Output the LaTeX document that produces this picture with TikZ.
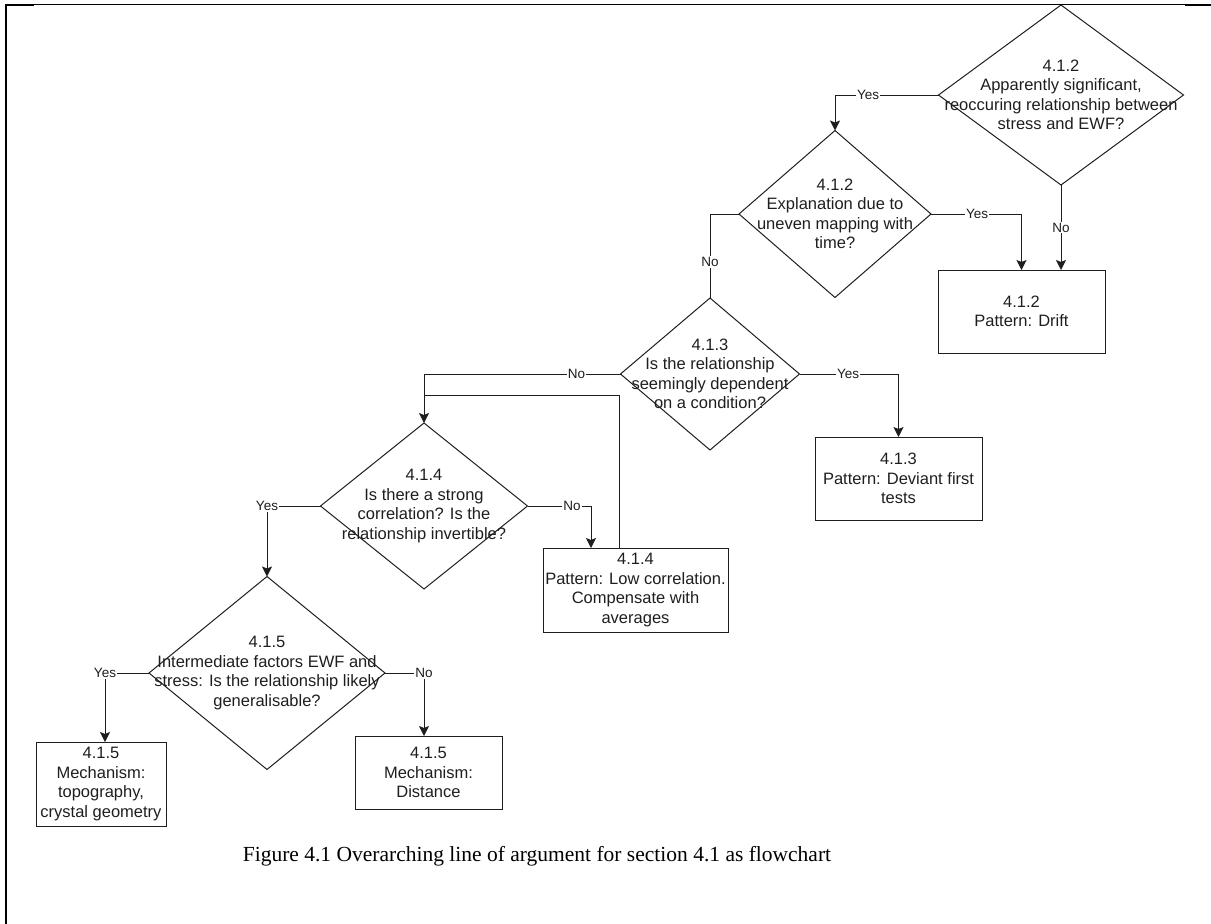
\documentclass[tikz,border=0pt]{standalone}
\usepackage{fontspec}
\setmainfont{Liberation Sans}
\newfontfamily\capfont{Liberation Serif}
\usetikzlibrary{shapes.geometric,arrows.meta}
\definecolor{ink}{HTML}{1E1E1E}
\begin{document}
\begin{tikzpicture}[x=1pt,y=-1pt,
  dec/.style={diamond,draw=ink,line width=1pt,inner sep=0pt,outer sep=0pt},
  dtext/.style={align=center,text=ink,font=\fontsize{16.5}{19.5}\selectfont,inner sep=0pt},
  box/.style={rectangle,draw=ink,line width=1pt,align=center,text=ink,font=\fontsize{16.5}{19.5}\selectfont,inner sep=0pt,outer sep=0pt},
  conn/.style={draw=ink,line width=1pt},
  arr/.style={conn,-{Stealth[length=10pt,width=10pt,inset=2pt]}},
  lbl/.style={fill=white,text=ink,font=\fontsize{13.5}{16}\selectfont,inner sep=1pt},
  frame/.style={draw=black}]
\useasboundingbox (0,0) rectangle (1211,924);
% frame
\draw[frame,line width=2.2pt] (6,4) -- (6,924);
\draw[frame,line width=1pt] (6,4.7) -- (1185,4.7);
\draw[frame,line width=2pt] (5,5) -- (34,5);
\draw[frame,line width=2pt] (1185,5) -- (1211,5);
% decisions
\node[dec,minimum width=245pt,minimum height=180pt] (d1) at (1061,95) {};
\node[dtext] (t1) at (d1) {4.1.2\\Apparently significant,\\reoccuring relationship between\\stress and EWF?};
\node[dec,minimum width=192pt,minimum height=167pt] (d2) at (835,214) {};
\node[dtext] (t2) at (d2) {4.1.2\\Explanation due to\\uneven mapping with\\time?};
\node[dec,minimum width=179pt,minimum height=152pt] (d3) at (710,374) {};
\node[dtext] (t3) at (d3) {4.1.3\\Is the relationship\\seemingly dependent\\on a condition?};
\node[dec,minimum width=207pt,minimum height=166pt] (d4) at (424,506) {};
\node[dtext] (t4) at (d4) {4.1.4\\Is there a strong\\correlation? Is the\\relationship invertible?};
\node[dec,minimum width=236pt,minimum height=193pt] (d5) at (267,673) {};
\node[dtext] (t5) at (d5) {4.1.5\\Intermediate factors EWF and\\stress: Is the relationship likely\\generalisable?};
% boxes
\node[box,minimum width=167pt,minimum height=83pt] (b2) at (1021.5,311.5) {4.1.2\\Pattern: Drift};
\node[box,minimum width=167pt,minimum height=83pt] (b3) at (898.5,478.5) {4.1.3\\Pattern: Deviant first\\tests};
\node[box,minimum width=185pt,minimum height=84pt] (b4) at (635.5,590) {4.1.4\\Pattern: Low correlation.\\Compensate with\\averages};
\node[box,minimum width=130pt,minimum height=84pt] (b5l) at (101,784) {4.1.5\\Mechanism:\\topography,\\crystal geometry};
\node[box,minimum width=147pt,minimum height=73pt] (b5r) at (428.5,772.5) {4.1.5\\Mechanism:\\Distance};
% connectors
\draw[arr] (d1.west) -| node[lbl,pos=0.34]{Yes} (d2.north);
\draw[arr] (d1.south) -- node[lbl,pos=0.5]{No} (d1.south |- b2.north);
\draw[arr] (d2.east) -| node[lbl,pos=0.255]{Yes} (b2.north);
\draw[conn] (d2.west) -| node[lbl,pos=0.786]{No} (d3.north);
\draw[arr] (d3.east) -| node[lbl,pos=0.245]{Yes} (b3.north);
\draw[arr] (d3.west) -| node[lbl,pos=0.112]{No} (d4.north);
\coordinate (j) at (424,395);
\draw[conn] ([xshift=-16.5pt]b4.north) |- (j);
\draw[arr] (d4.west) -| node[lbl,pos=0.5]{Yes} (d5.north);
\draw[arr] (d4.east) -| node[lbl,pos=0.35]{No} ([xshift=-44.5pt]b4.north);
\draw[arr] (d5.west) -| node[lbl,pos=0.5]{Yes} ([xshift=4pt]b5l.north);
\draw[arr] (d5.east) -| node[lbl,pos=0.5]{No} ([xshift=-4.5pt]b5r.north);
% caption
\node[font=\capfont\fontsize{21.5}{26}\selectfont,text=black] (cap) at (537,856) {Figure 4.1 Overarching line of argument for section 4.1 as flowchart};
\end{tikzpicture}
\end{document}
